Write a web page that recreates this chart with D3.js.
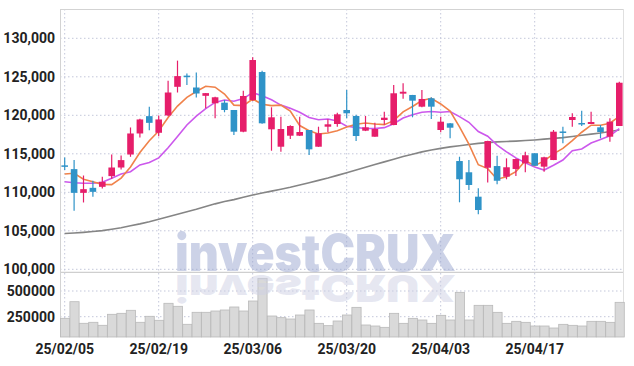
<!DOCTYPE html>
<html><head><meta charset="utf-8">
<script src="https://cdn.jsdelivr.net/npm/d3@7"></script>
<style>
html,body{margin:0;padding:0;background:#fff;}
svg{display:block;}
.lbl{font-family:"Liberation Sans Narrow","Roboto","DejaVu Sans",sans-serif;font-weight:bold;fill:#222;}
</style></head>
<body>
<svg id="chart" width="634" height="366"></svg>
<script>
const dates = ["25/02/05","25/02/06","25/02/07","25/02/10","25/02/11","25/02/12","25/02/13","25/02/14","25/02/17","25/02/18",
"25/02/19","25/02/20","25/02/21","25/02/24","25/02/25","25/02/26","25/02/27","25/02/28","25/03/04","25/03/05",
"25/03/06","25/03/07","25/03/10","25/03/11","25/03/12","25/03/13","25/03/14","25/03/17","25/03/18","25/03/19",
"25/03/20","25/03/21","25/03/24","25/03/25","25/03/26","25/03/27","25/03/28","25/03/31","25/04/01","25/04/02",
"25/04/03","25/04/04","25/04/07","25/04/08","25/04/09","25/04/10","25/04/11","25/04/14","25/04/15","25/04/16",
"25/04/17","25/04/18","25/04/21","25/04/22","25/04/23","25/04/24","25/04/25","25/04/28","25/04/29","25/04/30"];
const opens = [113500,113010,109930,110580,110710,112100,113220,114910,117640,119890,
117730,119980,123700,125150,123610,122530,121560,121640,120690,117870,
121990,125620,118180,115920,117350,117350,118090,115920,118520,118870,
120690,119910,118000,117220,119390,118740,122810,122640,121120,122210,
118090,118960,114060,112600,109430,113190,113410,112030,113030,113770,
115070,113330,114190,117900,119390,119000,118870,118440,117220,118610];
const highs = [114520,114180,112180,111490,112010,114910,114780,118420,119540,121100,
119980,124480,127100,125430,125560,122900,122400,121990,120700,123190,
127530,125790,121040,119820,118700,119820,118100,118520,119480,120340,
123280,120080,119910,119040,120470,123930,124150,122650,123280,122340,
119820,119000,114620,114190,110520,116700,114750,114410,114400,115270,
115080,114630,118090,118520,120260,120600,120470,118740,119610,124360];
const lows = [112880,107590,108680,109410,110500,111750,112960,114610,117120,118070,
117290,119890,122960,123920,122320,120910,119610,120390,117440,117800,
121900,118900,115400,115270,116920,117300,114840,115900,117790,118520,
119610,116660,117950,117200,118780,118700,122160,119740,121040,119520,
117790,117010,108700,110300,107140,111260,111040,111690,112120,112600,
113440,112680,114180,116360,118520,118610,118860,117010,116570,118600];
const closes = [113400,109930,110410,110060,111360,113220,114180,117640,119460,119020,
119460,122960,125090,125100,122830,122880,122340,120690,117870,122510,
127180,118960,119740,118220,118610,117830,115580,117660,118830,120130,
120260,117310,118440,118220,119690,122860,123060,121900,122120,121120,
119170,118390,111690,110950,107700,116660,111500,113250,114320,114810,
113450,114550,117870,117850,119780,118950,119130,117830,119170,124230];
const volumes = [234400,396000,185800,195500,166300,273300,283000,312300,195500,253900,
215000,380400,351200,176100,292800,292800,305400,315200,344400,305400,
402700,623200,256800,240600,227600,266500,315200,185500,162800,208200,
266500,341100,169300,159500,146600,282800,185500,234100,217900,185500,
263300,217900,487100,217900,360600,360600,292500,185500,205000,195200,
159500,159500,140100,175800,166100,159500,205000,205000,195200,389800];
const ma5 = [112380,112470,111690,111380,111032,110996,111846,113292,115172,116704,
117952,119708,121198,122326,123088,123772,123648,122768,121322,121258,
122118,121442,121252,121322,120542,118672,117996,117580,117702,118006,
118492,118838,118994,118872,118784,119304,120454,121146,121926,122212,
121474,120540,118498,116264,113580,113078,111700,112012,112686,114108,
113466,114076,115000,115706,116700,117800,118716,118708,118972,119862];
const ma10 = [111380,111250,111170,111170,111300,111820,112380,112680,113550,113868,
114474,115777,117245,118749,119896,120862,121678,121983,121824,122173,
122945,122545,122010,121322,120900,120395,119719,119416,119512,119274,
118582,118417,118287,118287,118395,118898,119646,120070,120399,120498,
120389,120497,119822,119095,117896,117276,116120,115255,114475,113844,
113272,112888,113506,114196,115404,115633,116396,116854,117339,118281];
const ma60 = [104650,104720,104800,104900,105020,105200,105400,105650,105900,106180,
106490,106820,107150,107480,107800,108150,108500,108800,109050,109350,
109650,109900,110150,110400,110650,110950,111250,111550,111850,112200,
112550,112900,113250,113600,113950,114300,114650,114950,115250,115500,
115700,115900,116050,116200,116350,116450,116550,116600,116650,116720,
116800,116900,117000,117100,117250,117400,117550,117700,117900,118100];
const priceTicks = [100000,105000,110000,115000,120000,125000,130000];
const volumeTicks = [250000,500000];
const dateTicks = ["25/02/05","25/02/19","25/03/06","25/03/20","25/04/03","25/04/17"];

const svg = d3.select("#chart");
const L = 60, R = 624, T = 9, MID = 272.3, B = 337;
const x = d3.scaleBand().domain(dates).range([L, R]).padding(0);
const y = d3.scaleLinear().domain([100000,130000]).range([269.3, 38.3]);
const yv = d3.scaleLinear().domain([250000,500000]).range([316.7, 291]);
const cx = d => x(d) + x.bandwidth()/2;
const gridColor = "#c3c7da";

// grid
const grid = svg.append("g");
grid.selectAll(".hg").data(priceTicks).join("line")
  .attr("x1", L).attr("x2", R).attr("y1", d=>y(d)).attr("y2", d=>y(d))
  .attr("stroke", gridColor).attr("stroke-dasharray","1.5,2.5");
grid.selectAll(".vg").data(volumeTicks).join("line")
  .attr("x1", L).attr("x2", R).attr("y1", d=>yv(d)).attr("y2", d=>yv(d))
  .attr("stroke", gridColor).attr("stroke-dasharray","1.5,2.5");
grid.selectAll(".xg").data(dateTicks).join("line")
  .attr("x1", d=>cx(d)).attr("x2", d=>cx(d)).attr("y1", T).attr("y2", B)
  .attr("stroke", gridColor).attr("stroke-dasharray","1.5,2.5");

// frame
svg.append("line").attr("x1",L).attr("x2",R).attr("y1",T+0.5).attr("y2",T+0.5).attr("stroke","#d3d3d3");
svg.append("line").attr("x1",L).attr("x2",R).attr("y1",MID).attr("y2",MID).attr("stroke","#cfcfcf").attr("stroke-width",1.2);
svg.append("line").attr("x1",L+0.5).attr("x2",L+0.5).attr("y1",T).attr("y2",B).attr("stroke","#d3d3d3");
svg.append("line").attr("x1",R-0.5).attr("x2",R-0.5).attr("y1",T).attr("y2",B).attr("stroke","#e0e0e0");

// volume bars
svg.append("g").selectAll("rect").data(volumes).join("rect")
  .attr("x", (d,i)=>x(dates[i])+0.5)
  .attr("width", x.bandwidth()-0.2)
  .attr("y", d=>yv(d))
  .attr("height", d=>B - yv(d))
  .attr("fill","#d9d9d9").attr("stroke","#b9b9b9").attr("stroke-width",0.8);

// watermark (main text + mirrored reflection drawn as a single text with clip)
const wm = svg.append("g");
const wmFont = "'Inter','Lato','DejaVu Sans',sans-serif";
wm.append("text").text("investCRUX")
  .attr("x",175).attr("y",270.7)
  .attr("textLength",281).attr("lengthAdjust","spacingAndGlyphs")
  .style("font-family",wmFont).style("font-weight","900").style("font-size","51px")
  .attr("fill","#9aa6cf").attr("fill-opacity",0.5);
wm.append("text").text("investCRUX")
  .attr("x",175).attr("y",270.7)
  .attr("transform","translate(0,275) scale(1,-0.73) translate(0,-270.7)")
  .attr("textLength",281).attr("lengthAdjust","spacingAndGlyphs")
  .style("font-family",wmFont).style("font-weight","900").style("font-size","51px")
  .attr("fill","#cdd0e4").attr("fill-opacity",0.5);

// moving averages
const line = arr => d3.line().x((d,i)=>cx(dates[i])).y(d=>y(d)).curve(d3.curveLinear)(arr);
svg.append("path").attr("d", line(ma60)).attr("fill","none").attr("stroke","#858585").attr("stroke-width",1.6);
svg.append("path").attr("d", line(ma10)).attr("fill","none").attr("stroke","#cc58ec").attr("stroke-width",1.6);
svg.append("path").attr("d", line(ma5)).attr("fill","none").attr("stroke","#f0824a").attr("stroke-width",1.6);

// candles
const up = "#e61e6a", down = "#2f93c8";
const cg = svg.append("g");
dates.forEach((dt,i)=>{
  const col = closes[i] >= opens[i] ? up : down;
  const c = cx(dt);
  cg.append("line").attr("x1",c).attr("x2",c).attr("y1",y(highs[i])).attr("y2",y(lows[i]))
    .attr("stroke",col).attr("stroke-width",1.2);
  const top = y(Math.max(opens[i],closes[i])), bot = y(Math.min(opens[i],closes[i]));
  cg.append("rect").attr("x", c-3.3).attr("width",6.6)
    .attr("y", top).attr("height", Math.max(1.5, bot-top)).attr("fill",col);
});

// axis labels
svg.append("g").selectAll("text").data(priceTicks).join("text")
  .attr("class","lbl").attr("x",55).attr("y",d=>y(d)).attr("dy","0.36em")
  .attr("text-anchor","end").style("font-size","14px")
  .text(d=>d3.format(",")(d));
svg.append("g").selectAll("text").data(volumeTicks).join("text")
  .attr("class","lbl").attr("x",55).attr("y",d=>yv(d)).attr("dy","0.36em")
  .attr("text-anchor","end").style("font-size","14px")
  .text(d=>String(d));
svg.append("g").selectAll("text").data(dateTicks).join("text")
  .attr("class","lbl").attr("x",d=>cx(d)).attr("y",353.5)
  .attr("text-anchor","middle").style("font-size","14px")
  .text(d=>d);
</script>
</body></html>
